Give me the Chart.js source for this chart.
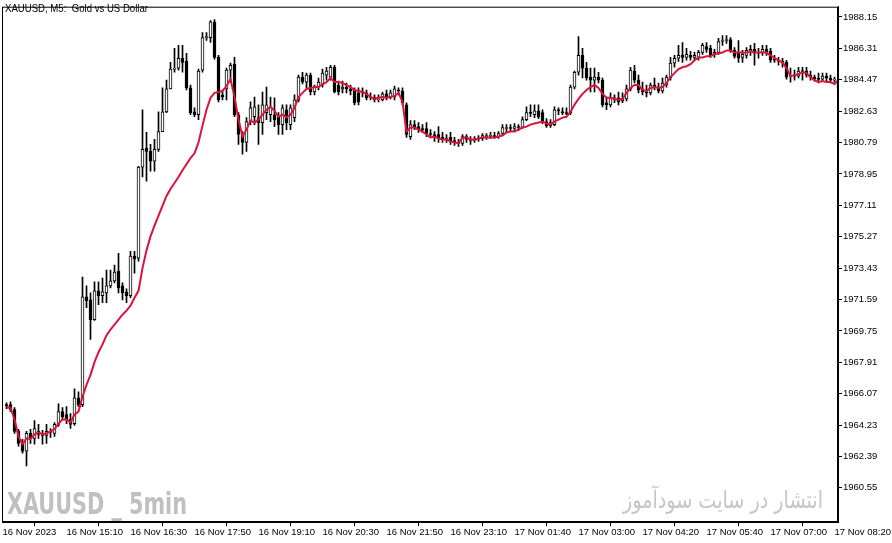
<!DOCTYPE html>
<html>
<head>
<meta charset="utf-8">
<script src="https://cdn.jsdelivr.net/npm/chart.js@4.4.0/dist/chart.umd.min.js"></script>
<style>
  html, body { margin: 0; padding: 0; background: #fff; }
  #chart { display: block; }
</style>
</head>
<body>
<canvas id="chart" width="892" height="543"></canvas>
<script>
// XAUUSD M5 candles, 16 Nov 13:55 .. 17 Nov 08:25
const opens = [
  1965.43, 1965.43, 1965.14, 1963.86, 1963.16, 1962.70, 1963.74, 1963.45, 1963.86, 1963.74,
  1963.63, 1963.86, 1963.74, 1964.27, 1965.02, 1964.85, 1964.56, 1964.32, 1965.83, 1965.43,
  1971.75, 1971.57, 1970.41, 1972.10, 1971.81, 1971.98, 1972.39, 1972.68, 1973.26, 1972.39,
  1972.04, 1971.81, 1974.13, 1974.01, 1979.35, 1980.45, 1980.27, 1979.69, 1980.39, 1981.43,
  1982.59, 1983.93, 1985.09, 1985.15, 1985.73, 1985.55, 1983.99, 1982.59, 1982.42, 1985.03,
  1986.94, 1986.94, 1987.87, 1985.78, 1983.58, 1983.93, 1985.03, 1985.38, 1982.42, 1981.26,
  1980.80, 1982.01, 1982.30, 1982.25, 1981.96, 1982.54, 1982.42, 1982.42, 1982.30, 1981.84,
  1982.71, 1981.84, 1982.25, 1983.29, 1984.62, 1984.33, 1984.74, 1983.75, 1984.04, 1984.16,
  1984.74, 1984.62, 1985.20, 1984.16, 1983.93, 1984.04, 1983.93, 1983.87, 1983.70, 1983.70,
  1983.70, 1983.41, 1983.46, 1983.29, 1983.29, 1983.64, 1983.46, 1983.46, 1983.87, 1983.81,
  1983.00, 1981.14, 1981.84, 1981.72, 1981.61, 1981.61, 1981.32, 1981.26, 1981.26, 1981.09,
  1980.97, 1981.09, 1980.91, 1980.80, 1980.74, 1981.14, 1980.97, 1980.91, 1980.97, 1981.03,
  1981.14, 1981.16, 1981.20, 1981.14, 1981.32, 1981.61, 1981.67, 1981.61, 1981.72, 1981.67,
  1982.13, 1982.54, 1982.42, 1982.65, 1982.54, 1982.01, 1981.78, 1981.84, 1982.71, 1982.59,
  1982.54, 1982.54, 1984.04, 1984.91, 1985.90, 1985.15, 1984.62, 1984.45, 1984.62, 1984.45,
  1983.12, 1983.00, 1983.29, 1983.41, 1983.23, 1983.35, 1983.93, 1984.97, 1984.45, 1983.93,
  1983.75, 1983.70, 1984.16, 1984.04, 1983.81, 1984.16, 1984.57, 1985.44, 1985.73, 1985.90,
  1985.78, 1985.90, 1985.78, 1985.78, 1986.07, 1986.42, 1986.31, 1985.96, 1986.07, 1986.71,
  1986.77, 1986.83, 1986.19, 1986.02, 1985.78, 1985.90, 1986.13, 1986.25, 1986.02, 1986.07,
  1986.25, 1986.13, 1985.67, 1985.61, 1985.55, 1985.49, 1984.68, 1984.74, 1984.68, 1984.97,
  1984.97, 1984.74, 1984.62, 1984.51, 1984.51, 1984.68, 1984.57, 1984.45, 1984.45
];
const highs = [
  1965.54, 1965.60, 1965.25, 1963.98, 1963.40, 1963.86, 1963.98, 1964.50, 1964.27, 1963.92,
  1964.27, 1964.03, 1964.38, 1965.48, 1965.25, 1965.31, 1964.90, 1966.35, 1966.18, 1972.91,
  1972.39, 1971.98, 1972.62, 1972.62, 1972.85, 1973.31, 1973.31, 1973.60, 1974.30, 1972.56,
  1972.21, 1974.42, 1974.42, 1979.40, 1982.71, 1981.38, 1980.68, 1980.97, 1982.59, 1983.99,
  1984.45, 1985.49, 1986.31, 1986.48, 1986.48, 1986.02, 1984.16, 1982.83, 1985.09, 1987.23,
  1987.23, 1987.93, 1987.99, 1985.90, 1983.87, 1985.15, 1985.44, 1985.78, 1982.54, 1981.43,
  1982.25, 1983.17, 1983.46, 1983.00, 1983.75, 1984.04, 1983.46, 1983.41, 1982.54, 1983.00,
  1983.00, 1983.00, 1983.58, 1984.74, 1984.91, 1984.86, 1984.86, 1984.16, 1984.57, 1985.09,
  1985.20, 1985.32, 1985.32, 1984.39, 1984.39, 1984.28, 1984.16, 1983.99, 1983.99, 1983.99,
  1983.87, 1983.70, 1983.58, 1983.58, 1983.75, 1983.87, 1983.87, 1984.10, 1983.99, 1983.99,
  1983.12, 1982.07, 1982.07, 1981.96, 1981.84, 1981.96, 1981.55, 1981.43, 1981.72, 1981.38,
  1981.26, 1981.38, 1981.09, 1980.97, 1981.26, 1981.26, 1981.14, 1981.14, 1981.20, 1981.32,
  1981.32, 1981.38, 1981.38, 1981.43, 1981.84, 1981.84, 1981.84, 1981.90, 1981.84, 1982.30,
  1982.88, 1983.00, 1983.00, 1983.00, 1982.71, 1982.19, 1982.13, 1982.88, 1982.83, 1982.83,
  1982.83, 1984.16, 1984.97, 1987.00, 1986.31, 1985.49, 1985.15, 1985.15, 1984.91, 1984.57,
  1983.46, 1983.70, 1983.58, 1983.75, 1983.70, 1984.16, 1985.20, 1985.32, 1984.74, 1984.33,
  1984.16, 1984.28, 1984.57, 1984.28, 1984.57, 1984.74, 1985.78, 1985.90, 1986.48, 1986.65,
  1986.31, 1986.13, 1986.07, 1986.19, 1986.60, 1986.65, 1986.48, 1986.25, 1986.89, 1987.06,
  1987.06, 1986.94, 1986.36, 1986.77, 1986.19, 1986.36, 1986.48, 1986.60, 1986.31, 1986.48,
  1986.48, 1986.31, 1985.90, 1985.78, 1985.73, 1985.61, 1985.15, 1985.03, 1985.20, 1985.20,
  1985.20, 1984.97, 1984.74, 1984.86, 1984.86, 1984.86, 1984.74, 1984.62, 1984.62
];
const lows = [
  1965.19, 1965.02, 1963.74, 1962.99, 1962.58, 1961.83, 1963.16, 1963.11, 1963.45, 1963.11,
  1963.16, 1963.51, 1963.57, 1964.15, 1964.56, 1964.32, 1964.03, 1964.21, 1965.31, 1965.31,
  1971.11, 1969.25, 1970.36, 1971.28, 1971.40, 1971.40, 1972.27, 1972.56, 1971.98, 1971.57,
  1971.40, 1971.69, 1973.14, 1973.84, 1978.77, 1978.53, 1979.11, 1979.11, 1980.27, 1981.43,
  1982.54, 1983.93, 1984.91, 1985.03, 1984.91, 1983.87, 1982.42, 1982.30, 1982.13, 1984.91,
  1986.77, 1986.65, 1985.67, 1983.17, 1983.29, 1983.29, 1984.33, 1982.30, 1980.68, 1980.10,
  1980.27, 1981.84, 1981.84, 1980.68, 1981.26, 1982.13, 1982.01, 1981.72, 1981.26, 1981.26,
  1981.55, 1981.55, 1982.01, 1983.17, 1984.22, 1983.99, 1983.58, 1983.58, 1983.87, 1984.04,
  1984.45, 1984.45, 1983.70, 1983.58, 1983.70, 1983.70, 1983.58, 1983.00, 1983.00, 1983.46,
  1983.29, 1983.29, 1983.17, 1983.17, 1983.23, 1983.29, 1983.35, 1983.29, 1983.58, 1983.00,
  1981.09, 1980.97, 1981.55, 1981.38, 1981.38, 1981.14, 1981.09, 1980.85, 1980.80, 1980.80,
  1980.80, 1980.68, 1980.62, 1980.56, 1980.62, 1980.80, 1980.68, 1980.80, 1980.85, 1980.91,
  1980.97, 1981.03, 1981.03, 1981.03, 1981.20, 1981.38, 1981.43, 1981.49, 1981.49, 1981.61,
  1982.07, 1982.30, 1982.25, 1982.19, 1981.90, 1981.67, 1981.67, 1981.78, 1982.42, 1982.42,
  1982.42, 1982.42, 1983.93, 1984.74, 1984.57, 1984.45, 1983.75, 1983.75, 1984.28, 1982.88,
  1982.71, 1982.88, 1983.12, 1983.00, 1983.12, 1983.23, 1983.81, 1984.28, 1983.70, 1983.58,
  1983.46, 1983.58, 1983.87, 1983.70, 1983.70, 1984.04, 1984.45, 1985.20, 1985.55, 1985.49,
  1985.61, 1985.61, 1985.61, 1985.61, 1985.96, 1986.07, 1985.78, 1985.78, 1985.96, 1986.48,
  1986.60, 1986.07, 1985.73, 1985.49, 1985.49, 1985.73, 1985.90, 1985.32, 1985.73, 1985.90,
  1985.90, 1985.49, 1985.49, 1985.32, 1985.20, 1984.51, 1984.33, 1984.45, 1984.57, 1984.45,
  1984.62, 1984.45, 1984.39, 1984.28, 1984.39, 1984.39, 1984.28, 1984.33, 1983.70
];
const closes = [
  1965.37, 1965.14, 1963.86, 1963.16, 1962.70, 1963.74, 1963.45, 1964.03, 1963.69, 1963.63,
  1963.86, 1963.80, 1964.27, 1965.02, 1964.73, 1964.56, 1964.27, 1965.83, 1965.43, 1971.75,
  1971.52, 1970.41, 1972.10, 1971.81, 1972.04, 1972.39, 1972.68, 1973.20, 1972.27, 1971.98,
  1971.81, 1974.13, 1973.95, 1979.35, 1980.39, 1980.27, 1979.69, 1980.39, 1981.43, 1982.59,
  1983.93, 1985.09, 1985.15, 1985.73, 1985.49, 1983.99, 1982.54, 1982.42, 1984.97, 1986.94,
  1987.00, 1987.87, 1985.78, 1983.29, 1983.46, 1985.03, 1985.32, 1982.42, 1981.26, 1980.80,
  1982.01, 1982.83, 1982.88, 1981.96, 1983.00, 1983.00, 1982.88, 1982.13, 1981.84, 1982.83,
  1981.96, 1982.83, 1983.29, 1984.62, 1984.33, 1984.74, 1983.75, 1984.04, 1984.33, 1984.86,
  1984.97, 1985.20, 1983.75, 1983.75, 1984.04, 1983.93, 1983.81, 1983.12, 1983.17, 1983.81,
  1983.41, 1983.46, 1983.29, 1983.35, 1983.64, 1983.46, 1983.70, 1983.93, 1983.81, 1983.12,
  1981.26, 1981.84, 1981.72, 1981.55, 1981.55, 1981.32, 1981.26, 1981.14, 1981.03, 1980.97,
  1981.03, 1980.85, 1980.80, 1980.74, 1981.14, 1980.97, 1980.91, 1980.97, 1981.03, 1981.20,
  1981.16, 1981.20, 1981.14, 1981.32, 1981.67, 1981.67, 1981.61, 1981.72, 1981.67, 1982.13,
  1982.54, 1982.50, 1982.65, 1982.30, 1982.01, 1981.78, 1981.96, 1982.71, 1982.65, 1982.54,
  1982.48, 1984.04, 1984.91, 1985.90, 1985.15, 1984.57, 1984.45, 1984.62, 1984.45, 1983.00,
  1983.00, 1983.41, 1983.41, 1983.17, 1983.35, 1983.93, 1985.03, 1984.45, 1983.87, 1983.75,
  1983.70, 1984.16, 1984.04, 1983.81, 1984.28, 1984.62, 1985.44, 1985.73, 1985.90, 1985.78,
  1985.96, 1985.78, 1985.90, 1986.07, 1986.48, 1986.25, 1985.90, 1986.07, 1986.71, 1986.77,
  1986.83, 1986.19, 1985.84, 1985.73, 1985.96, 1986.19, 1986.25, 1986.02, 1986.07, 1986.25,
  1986.07, 1985.61, 1985.61, 1985.55, 1985.44, 1984.62, 1984.74, 1984.68, 1984.97, 1984.95,
  1984.74, 1984.62, 1984.51, 1984.49, 1984.68, 1984.57, 1984.45, 1984.51, 1983.93
];
// red moving average, read per bar
const maLine = [
  1965.27, 1965.25, 1964.56, 1963.57, 1963.11, 1963.45, 1963.40, 1963.69, 1963.80, 1963.69,
  1963.74, 1963.86, 1963.98, 1964.32, 1964.56, 1964.56, 1964.38, 1964.85, 1965.02, 1965.89,
  1966.59, 1967.17, 1967.92, 1968.50, 1968.96, 1969.49, 1969.83, 1970.12, 1970.41, 1970.70,
  1970.94, 1971.23, 1971.69, 1972.10, 1973.43, 1974.47, 1975.29, 1975.92, 1976.50, 1977.08,
  1977.66, 1978.07, 1978.42, 1978.77, 1979.17, 1979.52, 1979.87, 1980.16, 1980.80, 1981.78,
  1982.71, 1983.41, 1983.70, 1983.75, 1983.81, 1984.10, 1984.51, 1983.46, 1982.13, 1981.14,
  1981.55, 1982.07, 1981.96, 1982.13, 1982.42, 1982.71, 1982.88, 1982.65, 1982.30, 1982.42,
  1982.25, 1982.42, 1982.83, 1983.46, 1983.70, 1983.93, 1983.99, 1984.04, 1984.04, 1984.22,
  1984.33, 1984.57, 1984.33, 1984.33, 1984.28, 1984.16, 1984.04, 1983.87, 1983.81, 1983.75,
  1983.64, 1983.46, 1983.35, 1983.41, 1983.46, 1983.41, 1983.46, 1983.52, 1983.70, 1983.17,
  1981.43, 1981.67, 1981.67, 1981.55, 1981.43, 1981.26, 1981.09, 1981.14, 1981.03, 1980.97,
  1980.97, 1980.85, 1980.80, 1980.74, 1981.09, 1981.09, 1980.97, 1980.97, 1981.03, 1981.09,
  1981.09, 1981.09, 1981.09, 1981.14, 1981.20, 1981.38, 1981.43, 1981.43, 1981.55, 1981.67,
  1981.72, 1981.84, 1981.90, 1981.96, 1982.01, 1981.90, 1981.84, 1982.01, 1982.13, 1982.25,
  1982.30, 1982.59, 1983.00, 1983.35, 1983.64, 1983.87, 1984.04, 1984.16, 1983.99, 1983.64,
  1983.41, 1983.41, 1983.35, 1983.29, 1983.35, 1983.70, 1983.99, 1984.16, 1984.16, 1983.87,
  1983.81, 1983.99, 1984.04, 1983.99, 1984.04, 1984.28, 1984.62, 1984.86, 1985.09, 1985.20,
  1985.26, 1985.38, 1985.61, 1985.78, 1985.78, 1985.84, 1985.84, 1985.96, 1986.02, 1986.07,
  1986.19, 1986.19, 1986.07, 1986.07, 1986.07, 1986.07, 1986.13, 1986.07, 1986.07, 1986.07,
  1986.07, 1985.90, 1985.73, 1985.61, 1985.49, 1985.15, 1984.68, 1984.74, 1984.80, 1984.91,
  1984.86, 1984.62, 1984.45, 1984.33, 1984.39, 1984.33, 1984.33, 1984.22, 1984.45
];

const yTicks = [1960.55, 1962.39, 1964.23, 1966.07, 1967.91, 1969.75, 1971.59, 1973.43,
                1975.27, 1977.11, 1978.95, 1980.79, 1982.63, 1984.47, 1986.31, 1988.15];
const xTickBars = [-1, 15, 31, 47, 63, 79, 95, 111, 127, 143, 159, 175, 191, 207];
const xTickLabels = ['16 Nov 2023', '16 Nov 15:10', '16 Nov 16:30', '16 Nov 17:50', '16 Nov 19:10',
  '16 Nov 20:30', '16 Nov 21:50', '16 Nov 23:10', '17 Nov 01:40', '17 Nov 03:00',
  '17 Nov 04:20', '17 Nov 05:40', '17 Nov 07:00', '17 Nov 08:20'];

const titleText = 'XAUUSD, M5:  Gold vs US Dollar';
const markLeft = 'XAUUSD _ 5min';
const markRight = 'انتشار در سایت سودآموز';

const AXIS_FONT = { family: 'Liberation Sans, Arial, sans-serif', size: 9.5 };

const isUp = i => closes[i] >= opens[i];

// squeeze a text into a given width
function fitText(ctx, text, x, y, width) {
  const w = ctx.measureText(text).width;
  ctx.save();
  ctx.translate(x, y);
  ctx.scale(width / w, 1);
  ctx.fillText(text, 0, 0);
  ctx.restore();
}

const decor = {
  id: 'decor',
  beforeDatasetsDraw(chart) {
    const ctx = chart.ctx;
    ctx.save();
    ctx.textBaseline = 'alphabetic';
    ctx.textAlign = 'left';
    ctx.fillStyle = '#c0c0c0';
    ctx.font = 'bold 31px "Liberation Sans Narrow", "DejaVu Sans Condensed", sans-serif';
    fitText(ctx, markLeft, 7, 514, 180);
    ctx.fillStyle = '#c6c6c6';
    ctx.font = '24px "DejaVu Sans", sans-serif';
    ctx.direction = 'rtl';
    ctx.textAlign = 'right';
    const w = ctx.measureText(markRight).width;
    ctx.save();
    ctx.translate(823, 508);
    ctx.scale(200 / w, 1);
    ctx.fillText(markRight, 0, 0);
    ctx.restore();
    ctx.restore();
  },
  afterDraw(chart) {
    const { ctx, chartArea: a } = chart;
    ctx.save();
    ctx.strokeStyle = '#000';
    ctx.lineWidth = 1;
    ctx.strokeRect(a.left + 0.5, a.top + 0.5, a.right - a.left - 1, a.bottom - a.top - 1);
    ctx.fillStyle = '#000';
    ctx.font = '11px "Liberation Sans", Arial, sans-serif';
    ctx.textBaseline = 'alphabetic';
    ctx.textAlign = 'left';
    fitText(ctx, titleText, 5, 12, 143);
    ctx.restore();
  }
};

new Chart(document.getElementById('chart'), {
  data: {
    datasets: [
      {
        type: 'line',
        data: maLine.map((v, i) => ({ x: i, y: v })),
        borderColor: '#dc143c',
        borderWidth: 2,
        pointRadius: 0,
        tension: 0,
        order: 0
      },
      {
        type: 'bar',
        data: opens.map((o, i) => ({ x: i, y: [o, closes[i]] })),
        backgroundColor: c => isUp(c.dataIndex) ? '#ffffff' : '#000000',
        borderColor: '#000',
        borderWidth: 1,
        borderSkipped: false,
        barThickness: 3,
        minBarLength: 1,
        grouped: false,
        order: 1
      },
      {
        type: 'bar',
        data: lows.map((l, i) => ({ x: i, y: [l, highs[i]] })),
        backgroundColor: '#000',
        borderWidth: 0,
        barThickness: 1,
        grouped: false,
        order: 2
      }
    ]
  },
  options: {
    responsive: false,
    animation: false,
    devicePixelRatio: 1,
    layout: { padding: { left: 2, top: 1, right: 0, bottom: 0 } },
    plugins: { legend: { display: false }, tooltip: { enabled: false } },
    scales: {
      x: {
        type: 'linear',
        min: -1.125,
        max: 207.875,
        offset: false,
        afterBuildTicks: s => { s.ticks = xTickBars.map(v => ({ value: v })); },
        afterFit: s => { s.height = 21; s.paddingLeft = 0; s.paddingRight = 0; },
        grid: { drawOnChartArea: false, tickLength: 4, color: '#000' },
        border: { display: true, color: '#000' },
        ticks: {
          autoSkip: false,
          maxRotation: 0,
          align: 'start',
          padding: 1,
          color: '#000',
          font: AXIS_FONT,
          callback: (v, i) => xTickLabels[i]
        }
      },
      y: {
        position: 'right',
        min: 1958.55,
        max: 1988.75,
        afterBuildTicks: s => { s.ticks = yTicks.map(v => ({ value: v })); },
        afterFit: s => { s.width = 54; },
        grid: { drawOnChartArea: false, tickLength: 4, color: '#000' },
        border: { display: true, color: '#000' },
        ticks: {
          autoSkip: false,
          padding: 1,
          color: '#000',
          font: AXIS_FONT,
          callback: v => v.toFixed(2)
        }
      }
    }
  },
  plugins: [decor]
});
</script>
</body>
</html>
